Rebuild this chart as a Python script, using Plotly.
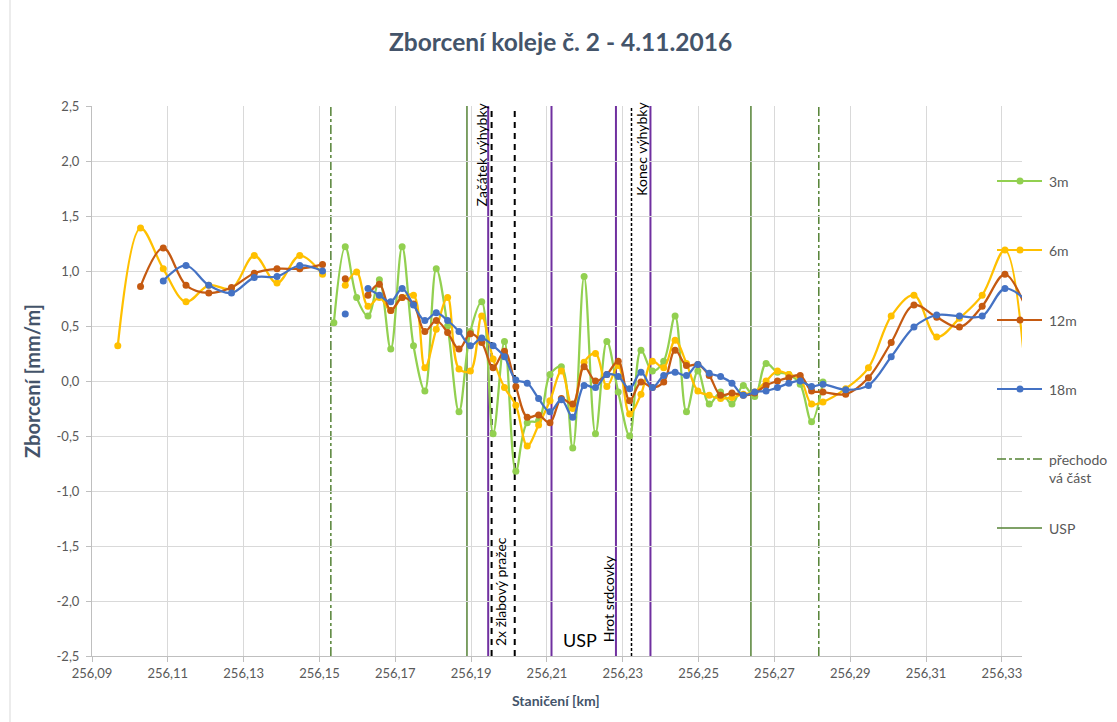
import plotly.graph_objects as go

# Measurement stations along the track [km]
stations_km = [
    256.0968, 256.1028, 256.1088, 256.1148, 256.1208, 256.1268, 256.1328, 256.1388, 256.1448, 256.1508,
    256.1538, 256.1568, 256.1598, 256.1628, 256.1658, 256.1688, 256.1718, 256.1748, 256.1778, 256.1808,
    256.1838, 256.1868, 256.1898, 256.1928, 256.1958, 256.1988, 256.2018, 256.2048, 256.2078, 256.2108,
    256.2138, 256.2168, 256.2198, 256.2228, 256.2258, 256.2288, 256.2318, 256.2348, 256.2378, 256.2408,
    256.2438, 256.2468, 256.2498, 256.2528, 256.2558, 256.2588, 256.2618, 256.2648, 256.2678, 256.2708,
    256.2738, 256.2768, 256.2798, 256.2828, 256.2888, 256.2948, 256.3008, 256.3068, 256.3128, 256.3188,
    256.3248, 256.3308, 256.3368,
]

# Track twist [mm/m] for the four measuring bases (None = no reading, line is broken there)
twist_3m = [
    None, None, None, None, None, None, None, None, None, None,
    0.53, 1.22, 0.76, 0.59, 0.92, 0.29, 1.22, 0.32, -0.09, 1.02,
    0.50, -0.28, 0.45, 0.72, -0.48, 0.36, -0.82, -0.38, -0.36, 0.06,
    0.13, -0.61, 0.95, -0.48, 0.36, -0.10, -0.50, 0.28, 0.09, 0.18,
    0.59, -0.28, 0.09, -0.21, -0.10, -0.21, -0.04, -0.14, 0.16, 0.08,
    0.06, -0.03, -0.37, -0.01, None, None, None, None, None, None,
    None, None, None,
]
twist_6m = [
    0.32, 1.39, 1.02, 0.72, 0.87, 0.84, 1.14, 0.89, 1.14, 0.97,
    None, 0.87, 0.99, 0.68, 0.76, 0.64, 0.76, 0.78, 0.12, 0.47,
    0.76, 0.11, 0.09, 0.59, 0.20, -0.06, -0.22, -0.59, -0.40, -0.18,
    0.09, -0.25, 0.17, 0.25, -0.05, 0.14, -0.30, -0.12, 0.18, 0.12,
    0.37, 0.16, -0.09, -0.13, -0.16, -0.15, -0.12, -0.10, 0.00, 0.09,
    0.06, 0.02, -0.21, -0.19, -0.07, 0.12, 0.59, 0.78, 0.40, 0.57,
    0.78, 1.19, -0.20,
]
twist_12m = [
    None, 0.86, 1.21, 0.87, 0.80, 0.85, 0.98, 1.02, 1.02, 1.06,
    None, 0.93, None, 0.78, 0.88, 0.64, 0.76, 0.70, 0.45, 0.55,
    0.44, 0.29, 0.43, 0.35, 0.12, 0.27, -0.05, -0.33, -0.31, -0.38,
    -0.16, -0.21, 0.13, 0.00, 0.06, 0.18, -0.18, -0.01, -0.06, -0.01,
    0.28, 0.14, 0.15, 0.05, -0.13, -0.11, -0.13, -0.11, -0.04, 0.00,
    0.03, 0.05, -0.09, -0.10, -0.12, 0.03, 0.35, 0.69, 0.58, 0.49,
    0.68, 0.97, 0.62,
]
twist_18m = [
    None, None, 0.91, 1.05, 0.87, 0.80, 0.94, 0.95, 1.05, 1.00,
    None, 0.61, None, 0.84, 0.78, 0.72, 0.84, 0.69, 0.55, 0.62,
    0.55, 0.45, 0.32, 0.39, 0.32, 0.22, 0.01, -0.02, -0.16, -0.28,
    -0.17, -0.33, -0.04, -0.06, 0.06, 0.04, -0.07, 0.08, -0.06, 0.05,
    0.08, 0.05, 0.15, 0.07, 0.04, -0.02, -0.13, -0.10, -0.09, -0.06,
    -0.02, 0.00, -0.05, -0.03, -0.08, -0.04, 0.22, 0.49, 0.60, 0.59,
    0.59, 0.84, 0.72,
]

series_names = ["3m", "6m", "12m", "18m"]
series_values = [twist_3m, twist_6m, twist_12m, twist_18m]
series_colors = ["#92D050", "#FFC000", "#C55A11", "#4472C4"]

# Reference positions along the switch [km]
transition_km = [256.1530, 256.2817]          # přechodová část
usp_km = [256.1889, 256.2638]                 # USP
switch_marks_km = [256.1945, 256.2112, 256.2282, 256.2373]
sleeper_marks_km = [256.1954, 256.2015]       # žlabové pražce
end_mark_km = [256.2323]

# Axis ticks
x_ticks = [256.09, 256.11, 256.13, 256.15, 256.17, 256.19, 256.21, 256.23, 256.25, 256.27, 256.29, 256.31, 256.33]
x_tick_labels = ["256,09", "256,11", "256,13", "256,15", "256,17", "256,19", "256,21",
                 "256,23", "256,25", "256,27", "256,29", "256,31", "256,33"]
y_ticks = [-2.5, -2.0, -1.5, -1.0, -0.5, 0.0, 0.5, 1.0, 1.5, 2.0, 2.5]
y_tick_labels = ["-2,5", "-2,0", "-1,5", "-1,0", "-0,5", "0,0", "0,5", "1,0", "1,5", "2,0", "2,5"]

W, H = 1117, 722
L, R, T, B = 92, 1022, 106, 656  # plot area in pixels


def px_x(px):
    return (px - L) / (R - L)


def px_y(py):
    return (B - py) / (B - T)


FONT = "Lato"
GREY = "#595959"
SLATE = "#44546A"

fig = go.Figure()

for name, vals, col in zip(series_names, series_values, series_colors):
    # leading/trailing empty readings are dropped, inner ones keep the line broken
    idx = [i for i, v in enumerate(vals) if v is not None]
    first, last = idx[0], idx[-1]
    fig.add_trace(go.Scatter(
        x=stations_km[first:last + 1], y=vals[first:last + 1], name=name, mode="lines+markers",
        line=dict(color=col, width=2.25, shape="spline", smoothing=1.0),
        marker=dict(color=col, size=7), connectgaps=False,
        showlegend=False, cliponaxis=True,
    ))

shapes = []

# thin frame line on the left side of the chart area
shapes.append(dict(type="line", xref="paper", yref="paper", x0=px_x(10), x1=px_x(10),
                   y0=px_y(0), y1=px_y(H), line=dict(color="#D9D9D9", width=1), layer="below"))


def vline(x, color, width, dash):
    shapes.append(dict(type="line", xref="x", yref="paper", x0=x, x1=x, y0=0, y1=1,
                       line=dict(color=color, width=width, dash=dash), layer="between"))


for x in transition_km:
    vline(x, "#548235", 1.5, "dashdot")
for x in usp_km:
    vline(x, "#548235", 1.5, "solid")
for x in switch_marks_km:
    vline(x, "#7030A0", 2, "solid")
for x in sleeper_marks_km:
    vline(x, "#000000", 2, "6px,5px")
for x in end_mark_km:
    vline(x, "#000000", 1.5, "3px,2px")

annotations = []


def note(x, y, text, size, angle=0):
    annotations.append(dict(x=x, y=y, xref="x", yref="y", text=text, textangle=angle,
                            xanchor="center", yanchor="middle", showarrow=False,
                            font=dict(family=FONT, size=size, color="#000000")))


# Text labels at the switch marks
note(256.1926, 2.06, "Začátek výhybky", 14, -90)
note(256.2350, 2.11, "Konec výhybky", 14, -90)
note(256.1976, -1.91, "2x žlabový pražec", 14, -90)
note(256.2262, -1.98, "Hrot srdcovky", 14, -90)
note(256.2187, -2.355, "USP", 18)

# Titles
annotations += [
    dict(x=px_x(560), y=px_y(42), xref="paper", yref="paper", xanchor="center", yanchor="middle",
         text="<b>Zborcení koleje č. 2 - 4.11.2016</b>",
         showarrow=False, font=dict(family=FONT, size=24.5, color=SLATE)),
    dict(x=px_x(32), y=px_y(381), xref="paper", yref="paper", xanchor="center", yanchor="middle",
         text="<b>Zborcení [mm/m]</b>", textangle=-90,
         showarrow=False, font=dict(family=FONT, size=20, color=SLATE)),
    dict(x=px_x(556), y=px_y(700), xref="paper", yref="paper", xanchor="center", yanchor="middle",
         text="<b>Staničení [km]</b>",
         showarrow=False, font=dict(family=FONT, size=14, color=SLATE)),
]

# Legend on the right
legend_rows = [
    ("3m", 181, "#92D050", "solid", True),
    ("6m", 250, "#FFC000", "solid", True),
    ("12m", 320, "#C55A11", "solid", True),
    ("18m", 389, "#4472C4", "solid", True),
    ("přechodo<br>vá část", 459, "#548235", "dashdot", False),
    ("USP", 528, "#548235", "solid", False),
]
for label, py, col, dash, marker in legend_rows:
    shapes.append(dict(type="line", xref="paper", yref="paper", x0=px_x(997), x1=px_x(1042),
                       y0=px_y(py), y1=px_y(py), line=dict(color=col, width=2 if marker else 1.5, dash=dash),
                       layer="above"))
    if marker:
        shapes.append(dict(type="circle", xref="paper", yref="paper", xsizemode="pixel", ysizemode="pixel",
                           xanchor=px_x(1020), yanchor=px_y(py), x0=-3.5, x1=3.5, y0=-3.5, y1=3.5,
                           fillcolor=col, line=dict(color=col, width=0), layer="above"))
    two_lines = "<br>" in label
    annotations.append(dict(x=px_x(1047), y=px_y(py - 10) if two_lines else px_y(py), xref="paper", yref="paper",
                            text=label, xanchor="left", yanchor="top" if two_lines else "middle", align="left",
                            showarrow=False, font=dict(family=FONT, size=14, color=GREY)))

fig.update_layout(
    width=W, height=H,
    margin=dict(l=L, r=W - R, t=T, b=H - B),
    paper_bgcolor="white", plot_bgcolor="white",
    showlegend=False,
    shapes=shapes, annotations=annotations,
    xaxis=dict(range=[256.09, 256.3353], tickvals=x_ticks, ticktext=x_tick_labels,
               showgrid=True, gridcolor="#D9D9D9", gridwidth=1, zeroline=False,
               showline=True, linecolor="#BFBFBF", linewidth=1,
               ticks="outside", ticklen=5, tickcolor="#BFBFBF",
               tickfont=dict(family=FONT, size=13, color=GREY)),
    yaxis=dict(range=[-2.5, 2.5], tickvals=y_ticks, ticktext=y_tick_labels,
               showgrid=True, gridcolor="#D9D9D9", gridwidth=1, zeroline=False,
               showline=True, linecolor="#BFBFBF", linewidth=1,
               ticks="outside", ticklen=5, tickcolor="#BFBFBF", ticklabelstandoff=4,
               tickfont=dict(family=FONT, size=13, color=GREY)),
)

fig.write_html("out.html")
